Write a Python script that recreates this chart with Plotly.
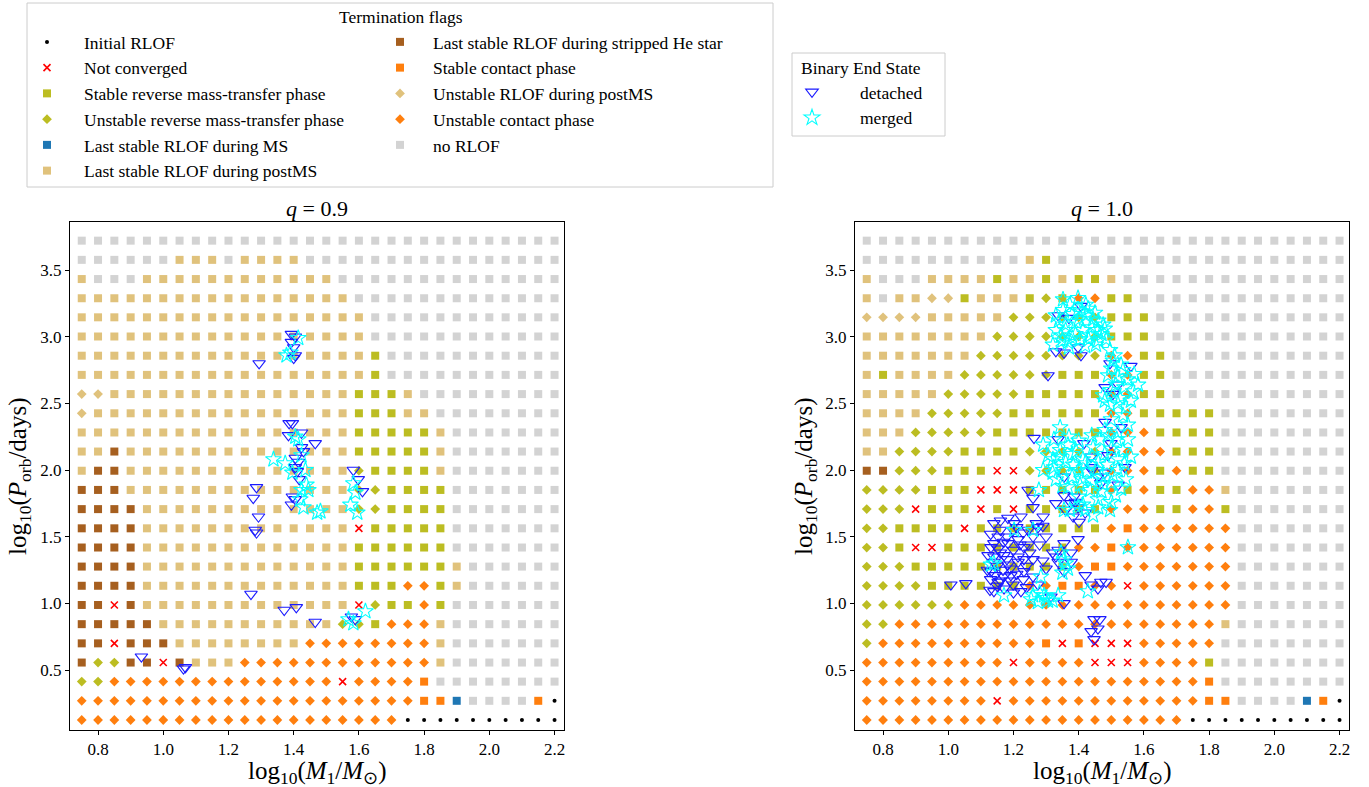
import plotly.graph_objects as go

# ---------------- data ----------------
LOG_M1 = [0.75, 0.80, 0.85, 0.90, 0.95, 1.00, 1.05, 1.10, 1.15, 1.20,
          1.25, 1.30, 1.35, 1.40, 1.45, 1.50, 1.55, 1.60, 1.65, 1.70,
          1.75, 1.80, 1.85, 1.90, 1.95, 2.00, 2.05, 2.10, 2.15, 2.20]
LOG_P = [0.125, 0.269, 0.413, 0.556, 0.700, 0.844, 0.988, 1.132, 1.276, 1.419,
         1.563, 1.707, 1.851, 1.995, 2.139, 2.282, 2.426, 2.570, 2.714, 2.858,
         3.002, 3.146, 3.289, 3.433, 3.577, 3.721]

# codes: '.' initial RLOF, 'x' not converged, 'R' stable reverse MT, 'r' unstable reverse MT,
# 'M' last stable MS, 'P' last stable postMS, 'H' stripped He, 'C' stable contact,
# 'p' unstable RLOF postMS, 'c' unstable contact, 'n' no RLOF
# rows listed from top (largest log P) to bottom
GRID_Q09 = [
    "nnnnnnnnnnnnnnn" + "nnnnnnnnnnnnnnn",
    "nnnnnnPPPnPPPPn" + "nnnnnnnnnnnnnnn",
    "PnnnPPPPPPPPPPP" + "Pnnnnnnnnnnnnnn",
    "PPPPPPPPPPPPPPP" + "PPnnnnnnnnnnnnn",
    "PPPPPPPPPPPPPPP" + "PPPnnnnnnnnnnnn",
    "PPPPPPPPPPPPPPP" + "PPPnnnnnnnnnnnn",
    "PPPPPPPPPPPPPPP" + "PPPRnnnnnnnnnnn",
    "PPPPPPPPPPPPPPP" + "PPPRnnnnnnnnnnn",
    "ppPPPPPPPPPPPPP" + "PPRRRPnnnnnnnnn",
    "pPPPPPPPPPPPPPP" + "PPRRRPPnnnnnnnn",
    "PPPPPPPPPPPPPPP" + "PPRRRRRPnnnnnnn",
    "PPHPPPPPPPPPPPP" + "PPRRRRRPnnnnnnn",
    "PHHPPPPPPPPPPPP" + "PPrRRRRPnnnnnnn",
    "HHHPPPPPPPPPPPP" + "PPrrRRRRnnnnnnn",
    "HHHHPPPPPPPPPPP" + "PPrrRRRRnnnnnnn",
    "HHHHPPPPPPPPPPP" + "PPxRRRRRnnnnnnn",
    "HHHHPPPPPPPPPPP" + "PPRRRRRRnnnnnnn",
    "HHHHPPPPPPPPPPP" + "PPRRRRRRPnnnnnn",
    "HHHHPPPPPPPPPPP" + "PPRRRccRPnnnnnn",
    "HHxHPPPPPPPPPPP" + "PPxrRRcRnnnnnnn",
    "HHHHHPPPPPPPPPP" + "PrrRcccPnnnnnnn",
    "HHxHHHPPPPPPPPc" + "cccccccPnnnnnnn",
    "HrrHHxHPPPccccc" + "cccccccPnnnnnnn",
    "rrccccccccccccc" + "cxccccCnnnnnnnn",
    "ccccccccccccccc" + "ccccccCCMnnnnC.",
    "ccccccccccccccc" + "ccccc..........",
]
GRID_Q10 = [
    "nnnnnnnnnnnnnnn" + "nnnnnnnnnnnnnnn",
    "nnnnnnnnnnPRnnn" + "nnnnnnnnnnnnnnn",
    "PnnnPPPPRPPRPRR" + "Pnnnnnnnnnnnnnn",
    "PnPPppRPPPRrRcc" + "RRnnnnnnnnnnnnn",
    "ppppPPPPPrrrrrr" + "RRRnnnnnnnnnnnn",
    "PPPPPPPPrrrrrrr" + "RRRnnnnnnnnnnnn",
    "PPPPPPPrrrrrrrr" + "ccRRnnnnnnnnnnn",
    "PRPPPPrrrrrrRRR" + "ccRRnnnnnnnnnnn",
    "PPPPPrrrrrRRRRR" + "ccRRnnnnnnnnnnn",
    "PPPPrrrrrRRRRRR" + "ccRRRRRnnnnnnnn",
    "PPPrrrrrRRRRRRR" + "cccRRRRnnnnnnnn",
    "PPrrrrRRRRrrrrr" + "ccccRRRnnnnnnnn",
    "HHrrrRRRxxrrrrr" + "cccRcRRnnnnnnnn",
    "rrrrRRRxxxRRRRR" + "cRcRRccPnnnnnnn",
    "rrrxRRRxRxRRRRR" + "cccRRccRnnnnnnn",
    "rrRRRRxRRRRRRRR" + "cCccccccnnnnnnn",
    "rrRxxRRRRRRRRcc" + "Ccccccccnnnnnnn",
    "rrrRRRRRRRRRRcC" + "Ccccccccnnnnnnn",
    "rrrrRRRRRRccCCc" + "cxccccccnnnnnnn",
    "rrrrrrccccccccc" + "ccccccccnnnnnnn",
    "rrccccccccccccc" + "cccccccPnnnnnnn",
    "rccccccccccCxCx" + "xxcccccnnnnnnnn",
    "cccccccccxccccx" + "xxccccRnnnnnnnn",
    "ccccccccccccccc" + "ccccccCnnnnnnnn",
    "ccccccccxcccccc" + "ccccccCCnnnnMC.",
    "ccccccccccccccc" + "ccccc..........",
]

DETACHED_Q09 = [
    (1.294, 2.80), (1.393, 3.02), (1.405, 3.00), (1.393, 2.96), (1.400, 2.92), (1.405, 2.86),
    (1.400, 2.84), (1.386, 2.35), (1.396, 2.35), (1.384, 2.26), (1.424, 2.28), (1.466, 2.20),
    (1.424, 2.17), (1.430, 2.14), (1.405, 2.09), (1.414, 2.06), (1.405, 2.02), (1.411, 1.99),
    (1.417, 1.93), (1.396, 1.80), (1.393, 1.74), (1.405, 1.78), (1.286, 1.87), (1.276, 1.79),
    (1.292, 1.65), (1.282, 1.55), (1.286, 1.53), (1.583, 2.00), (1.598, 1.93), (1.611, 1.84),
    (1.269, 1.07), (1.371, 0.95), (1.408, 0.97), (1.466, 0.86), (0.933, 0.60), (1.062, 0.51),
    (1.068, 0.52), (1.577, 0.90), (1.589, 0.88),
]
MERGED_Q09 = [
    (1.338, 2.08), (1.374, 2.05), (1.414, 2.23), (1.405, 2.25), (1.424, 2.11), (1.436, 2.00),
    (1.439, 1.89), (1.424, 1.85), (1.445, 1.85), (1.430, 1.72), (1.420, 1.78), (1.396, 1.98),
    (1.472, 1.68), (1.482, 1.69), (1.414, 2.99), (1.378, 2.86), (1.390, 2.88), (1.583, 1.90),
    (1.589, 1.83), (1.574, 1.74), (1.595, 1.68), (1.620, 0.94), (1.583, 0.85), (1.568, 0.88),
]
DETACHED_Q10 = [
    (1.337, 3.16), (1.407, 3.23), (1.370, 3.14), (1.330, 2.89), (1.355, 2.88), (1.398, 2.92),
    (1.407, 2.86), (1.306, 2.71), (1.496, 2.80), (1.560, 2.78), (1.521, 2.64), (1.481, 2.62),
    (1.505, 2.57),
    (1.263, 2.24), (1.416, 2.20), (1.438, 2.10), (1.438, 2.02), (1.459, 1.95), (1.355, 1.95),
    (1.245, 1.85), (1.260, 1.79), (1.260, 1.72), (1.355, 1.81), (1.386, 1.80), (1.377, 1.75),
    (1.398, 1.72), (1.383, 1.65), (1.401, 1.61), (1.481, 2.36), (1.530, 2.32), (1.499, 2.20),
    (1.542, 2.02), (1.521, 1.89), (1.468, 1.90), (1.490, 2.11), (1.337, 2.23),
    (1.390, 1.76), (1.360, 1.70), (1.420, 1.68), (1.330, 1.75), (1.480, 1.98), (1.440, 2.00),
    (1.140, 1.60), (1.183, 1.64), (1.223, 1.65), (1.202, 1.60), (1.291, 1.65), (1.275, 1.57),
    (1.300, 1.50), (1.153, 1.50), (1.183, 1.45), (1.214, 1.48), (1.232, 1.42), (1.131, 1.42),
    (1.140, 1.35), (1.171, 1.36), (1.214, 1.35), (1.337, 1.40), (1.355, 1.45), (1.398, 1.48),
    (1.330, 1.35), (1.377, 1.38), (1.008, 1.14), (1.054, 1.15), (1.140, 1.31), (1.131, 1.24),
    (1.153, 1.16), (1.183, 1.29), (1.192, 1.21), (1.214, 1.31), (1.232, 1.24), (1.232, 1.33),
    (1.171, 1.11), (1.140, 1.09), (1.223, 1.09), (1.275, 1.14), (1.315, 1.05), (1.355, 1.00),
    (1.337, 1.31), (1.377, 1.31), (1.355, 1.24), (1.438, 1.14), (1.459, 1.11), (1.468, 1.16),
    (1.484, 1.16), (1.447, 0.88), (1.438, 0.79), (1.459, 0.81), (1.447, 0.73), (1.465, 0.88),
    (1.160, 1.55), (1.144, 1.21), (1.160, 1.17), (1.199, 1.55), (1.245, 1.55), (1.290, 1.32),
    (1.420, 1.21), (1.122, 1.36), (1.153, 1.41), (1.168, 1.25), (1.199, 1.14), (1.230, 1.18),
    (1.128, 1.10), (1.245, 1.44), (1.260, 1.33),
    (1.120, 1.25), (1.130, 1.18), (1.150, 1.28), (1.160, 1.38), (1.170, 1.20), (1.180, 1.33),
    (1.190, 1.26), (1.200, 1.40), (1.210, 1.22), (1.220, 1.44), (1.240, 1.28), (1.250, 1.38),
    (1.260, 1.50), (1.140, 1.45), (1.180, 1.50), (1.210, 1.57), (1.270, 1.60), (1.130, 1.52),
    (1.160, 1.62), (1.190, 1.17), (1.240, 1.12), (1.260, 1.20), (1.290, 1.58), (1.150, 1.13),
    (1.200, 1.08), (1.230, 1.53), (1.170, 1.46), (1.280, 1.44), (1.300, 1.26), (1.320, 1.38),
]
MERGED_Q10 = [
    (1.330, 3.16), (1.352, 3.20), (1.373, 3.24), (1.398, 3.20), (1.422, 3.16), (1.444, 3.13),
    (1.459, 3.05), (1.475, 3.09), (1.360, 3.09), (1.392, 3.11), (1.413, 3.05), (1.435, 3.01),
    (1.380, 2.99), (1.346, 3.01), (1.321, 2.94), (1.367, 2.96), (1.404, 2.98), (1.453, 2.94),
    (1.484, 2.98), (1.422, 3.24), (1.352, 3.28), (1.398, 3.29),
    (1.340, 3.12), (1.360, 3.05), (1.380, 3.17), (1.400, 3.13), (1.410, 3.19), (1.430, 3.21),
    (1.450, 3.18), (1.460, 3.12), (1.470, 3.02), (1.430, 2.98), (1.390, 3.02), (1.370, 2.92),
    (1.420, 2.93), (1.460, 2.97), (1.330, 3.05), (1.350, 2.97), (1.480, 3.06), (1.440, 3.07),
    (1.496, 2.90), (1.505, 2.82), (1.536, 2.75), (1.490, 2.71), (1.551, 2.68), (1.514, 2.64),
    (1.475, 2.56), (1.527, 2.54), (1.567, 2.59), (1.496, 2.49), (1.545, 2.47), (1.582, 2.64),
    (1.510, 2.86), (1.530, 2.79), (1.500, 2.76), (1.520, 2.70), (1.540, 2.62), (1.500, 2.60),
    (1.520, 2.50), (1.560, 2.52), (1.480, 2.52), (1.570, 2.72),
    (1.343, 2.32), (1.324, 2.23), (1.291, 2.19),
    (1.321, 2.08), (1.343, 2.15), (1.367, 2.19), (1.392, 2.14), (1.413, 2.08), (1.444, 2.17),
    (1.465, 2.23), (1.490, 2.26), (1.517, 2.23), (1.536, 2.15), (1.551, 2.23), (1.521, 2.08),
    (1.487, 2.04), (1.456, 2.00), (1.425, 1.99), (1.383, 2.04), (1.352, 2.00), (1.330, 1.93),
    (1.367, 1.87), (1.404, 1.89), (1.435, 1.85), (1.475, 1.89), (1.505, 1.96), (1.545, 1.93),
    (1.514, 1.81), (1.459, 1.78), (1.413, 1.74), (1.373, 1.70), (1.496, 1.70), (1.444, 1.66),
    (1.278, 1.85), (1.324, 2.02), (1.355, 1.70), (1.398, 1.72), (1.551, 2.34), (1.499, 2.38),
    (1.536, 2.41), (1.291, 2.00), (1.306, 2.11),
    (1.340, 2.10), (1.360, 2.06), (1.380, 2.12), (1.400, 2.00), (1.420, 2.05), (1.440, 2.10),
    (1.460, 2.06), (1.480, 2.12), (1.500, 2.16), (1.520, 2.00), (1.540, 2.05), (1.500, 1.90),
    (1.470, 1.84), (1.440, 1.92), (1.400, 1.80), (1.380, 1.95), (1.350, 1.88), (1.420, 1.70),
    (1.460, 1.72), (1.500, 1.76), (1.530, 1.86), (1.560, 2.10), (1.480, 2.30), (1.440, 2.26),
    (1.400, 2.22), (1.370, 2.25), (1.520, 2.28), (1.320, 1.98), (1.470, 1.95), (1.410, 1.93),
    (1.551, 1.42),
    (1.202, 1.55), (1.260, 1.55), (1.131, 1.29), (1.171, 1.06), (1.284, 1.20), (1.254, 1.03),
    (1.275, 1.01), (1.294, 1.06), (1.355, 1.33), (1.367, 1.26), (1.428, 1.09), (1.346, 1.38),
    (1.306, 1.02), (1.337, 1.06), (1.300, 1.04), (1.320, 1.02), (1.280, 1.08), (1.260, 1.06),
    (1.140, 1.30), (1.360, 1.30), (1.350, 1.23),
]

# ---------------- styles ----------------
CATS = [  # code, label, symbol, color, size, legend column
    (".", "Initial RLOF", "circle", "black", 4, "legend"),
    ("x", "Not converged", "x-thin", "red", 7, "legend"),
    ("R", "Stable reverse mass-transfer phase", "square", "#bcbd22", 8, "legend"),
    ("r", "Unstable reverse mass-transfer phase", "diamond", "#bcbd22", 7.5, "legend"),
    ("M", "Last stable RLOF during MS", "square", "#1f77b4", 8, "legend"),
    ("P", "Last stable RLOF during postMS", "square", "#e0c27c", 8, "legend"),
    ("H", "Last stable RLOF during stripped He star", "square", "#a65f1f", 8, "legend2"),
    ("C", "Stable contact phase", "square", "#ff7f0e", 8, "legend2"),
    ("p", "Unstable RLOF during postMS", "diamond", "#e0c27c", 7.5, "legend2"),
    ("c", "Unstable contact phase", "diamond", "#ff7f0e", 7.5, "legend2"),
    ("n", "no RLOF", "square", "#d3d3d3", 8, "legend2"),
]
SERIF = "Liberation Serif"
LEG_FONT = 17.5

fig = go.Figure()
panels = [(GRID_Q09, DETACHED_Q09, MERGED_Q09, "x", "y", True),
          (GRID_Q10, DETACHED_Q10, MERGED_Q10, "x2", "y2", False)]

for grid, det, mrg, xa, ya, first in panels:
    nrows = len(grid)
    for code, label, sym, col, size, leg in CATS:
        xs, ys = [], []
        for k, row in enumerate(grid):
            yv = LOG_P[nrows - 1 - k]
            for j, ch in enumerate(row):
                if ch == code:
                    xs.append(LOG_M1[j])
                    ys.append(yv)
        if sym == "x-thin":
            marker = dict(symbol=sym, size=size, color=col, line=dict(width=1.6, color=col))
        else:
            marker = dict(symbol=sym, size=size, color=col, line=dict(width=0))
        fig.add_trace(go.Scatter(x=xs, y=ys, mode="markers", marker=marker, name=label,
                                 legendgroup=label, showlegend=first, legend=leg,
                                 xaxis=xa, yaxis=ya, hoverinfo="x+y+name"))
    fig.add_trace(go.Scatter(x=[p[0] for p in det], y=[p[1] for p in det], mode="markers",
                             marker=dict(symbol="triangle-down-open", size=11, color="#1a1aff",
                                         line=dict(width=1.1, color="#1a1aff")),
                             name="detached", legendgroup="detached", showlegend=first,
                             legend="legend3", xaxis=xa, yaxis=ya))
    fig.add_trace(go.Scatter(x=[p[0] for p in mrg], y=[p[1] for p in mrg], mode="markers",
                             marker=dict(symbol="star-open", size=12, color="#00ffff",
                                         line=dict(width=1.1, color="#00ffff")),
                             name="merged", legendgroup="merged", showlegend=first,
                             legend="legend3", xaxis=xa, yaxis=ya))

W, H = 1369, 787
def px(v):
    return v / W
def py(v):
    return 1 - v / H

axis_common = dict(range=[0.714, 2.229], tickvals=[0.8, 1.0, 1.2, 1.4, 1.6, 1.8, 2.0, 2.2],
                   tickformat=".1f", ticks="outside", ticklen=4, tickcolor="black",
                   showline=True, linecolor="black", linewidth=1, mirror=True,
                   showgrid=False, zeroline=False,
                   tickfont=dict(family=SERIF, size=17, color="black"))
yaxis_common = dict(range=[0.05, 3.861], tickvals=[0.5, 1.0, 1.5, 2.0, 2.5, 3.0, 3.5],
                    tickformat=".1f", ticks="outside", ticklen=4, tickcolor="black",
                    showline=True, linecolor="black", linewidth=1, mirror=True,
                    showgrid=False, zeroline=False,
                    tickfont=dict(family=SERIF, size=17, color="black"))

leg_common = dict(xanchor="left", yanchor="top",
                  font=dict(family=SERIF, size=LEG_FONT, color="black"),
                  bgcolor="rgba(0,0,0,0)", borderwidth=0, traceorder="grouped",
                  tracegroupgap=0)

def ann(text, x, y, size, angle=0, xanchor="center"):
    return dict(text=text, x=px(x), y=py(y), xref="paper", yref="paper", showarrow=False,
                xanchor=xanchor, yanchor="middle", textangle=angle,
                font=dict(family=SERIF, size=size, color="black"))

XLAB = "log<sub>10</sub>(<i>M</i><sub>1</sub>/<i>M</i><sub>⊙</sub>)"
YLAB = "log<sub>10</sub>(<i>P</i><sub>orb</sub>/days)"

ydom = [py(730), py(222)]
fig.update_layout(
    width=W, height=H, margin=dict(l=0, r=0, t=0, b=0),
    paper_bgcolor="white", plot_bgcolor="white",
    xaxis=dict(domain=[px(70), px(564)], anchor="y", **axis_common),
    yaxis=dict(domain=ydom, anchor="x", **yaxis_common),
    xaxis2=dict(domain=[px(855), px(1349)], anchor="y2", **axis_common),
    yaxis2=dict(domain=ydom, anchor="x2", **yaxis_common),
    legend=dict(x=px(10), y=py(24), itemwidth=64, **leg_common),
    legend2=dict(x=px(367), y=py(24), itemwidth=56, **leg_common),
    legend3=dict(x=px(764), y=py(74), itemwidth=86, **leg_common),
    shapes=[dict(type="rect", xref="paper", yref="paper", x0=px(27), x1=px(773),
                 y0=py(187), y1=py(3), line=dict(color="#cccccc", width=1), layer="below"),
            dict(type="rect", xref="paper", yref="paper", x0=px(792), x1=px(945),
                 y0=py(136), y1=py(53), line=dict(color="#cccccc", width=1), layer="below")],
    annotations=[
        ann("Termination flags", 401, 17, LEG_FONT),
        ann("Binary End State", 799, 68, LEG_FONT, xanchor="left"),
        ann("<i>q</i> = 0.9", 317, 209, 22),
        ann("<i>q</i> = 1.0", 1102, 209, 22),
        ann(XLAB, 317, 772, 25),
        ann(XLAB, 1102, 772, 25),
        ann(YLAB, 19, 476, 25, angle=-90),
        ann(YLAB, 805, 476, 25, angle=-90),
    ],
)

fig.write_html("out.html")
